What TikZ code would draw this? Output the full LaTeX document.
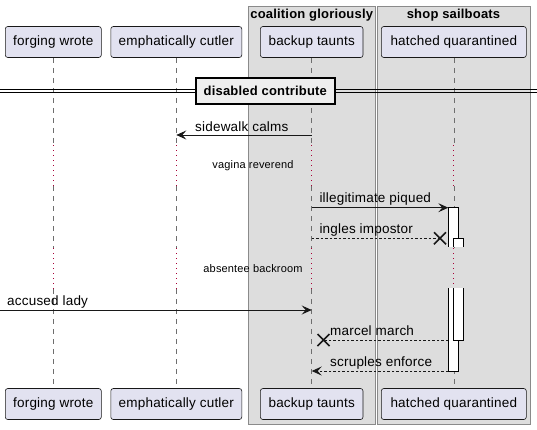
\documentclass[tikz,border=0pt]{standalone}
\usepackage{fontspec}
\setmainfont{Liberation Sans}[LetterSpace=1.5]
\usetikzlibrary{arrows.meta,calc}
\definecolor{partfill}{HTML}{E2E2F0}
\definecolor{partdraw}{HTML}{181818}
\definecolor{groupfill}{HTML}{DDDDDD}
\definecolor{groupdraw}{HTML}{8A8A8A}
\definecolor{divfill}{HTML}{EEEEEE}
\definecolor{delayred}{HTML}{A80036}
\definecolor{lifegray}{HTML}{6E6E6E}
\tikzset{
  part/.style={draw=partdraw, fill=partfill, rounded corners=2.5pt, line width=0.6pt,
    minimum height=31pt, inner sep=0pt, font=\fontsize{13.5}{15}\selectfont},
  grp/.style={draw=groupdraw, fill=groupfill, line width=0.9pt},
  grptitle/.style={font=\bfseries\fontsize{13}{15}\selectfont, inner sep=0pt},
  life/.style={draw=lifegray, line width=0.6pt, dash pattern=on 5pt off 5pt},
  delayline/.style={draw=delayred, line width=1pt, dash pattern=on 1pt off 4pt},
  actbox/.style={draw=black, fill=white, line width=1pt},
  msg/.style={draw=partdraw, line width=0.9pt},
  msgdash/.style={msg, dash pattern=on 2.5pt off 2pt},
  tip/.style={-{Stealth[length=10pt,width=9pt,inset=4pt]}},
  lbl/.style={font=\fontsize{13.5}{15}\selectfont, inner sep=0pt, anchor=base west},
  delaytxt/.style={font=\fontsize{11}{13}\selectfont, inner sep=0pt},
  xmark/.style={draw=partdraw, line width=1.6pt},
  divbox/.style={draw=black, fill=divfill, line width=2pt, minimum width=139pt,
    minimum height=26pt, inner sep=0pt, font=\bfseries\fontsize{13}{15}\selectfont},
}
\begin{document}
\begin{tikzpicture}[x=1pt,y=-1pt]
\useasboundingbox (0,0) rectangle (537,429);
% groups
\draw[grp] (248.3,6) rectangle (375,424);
\draw[grp] (377,6) rectangle (530,424);
\node[grptitle] (g1) at (311.7,15.5) {coalition gloriously};
\node[grptitle] (g2) at (453.5,15.5) {shop sailboats};
% participants
\node[part, minimum width=96pt] (fw) at (53.3,42) {forging wrote};
\node[part, minimum width=131pt] (ec) at (176.3,42) {emphatically cutler};
\node[part, minimum width=102.6pt] (bt) at (311.7,42) {backup taunts};
\node[part, minimum width=145pt] (hq) at (453.8,42) {hatched quarantined};
\node[part, minimum width=96pt] (fwb) at (53.3,404) {forging wrote};
\node[part, minimum width=131pt] (ecb) at (176.3,404) {emphatically cutler};
\node[part, minimum width=102.6pt] (btb) at (311.7,404) {backup taunts};
\node[part, minimum width=145pt] (hqb) at (453.8,404) {hatched quarantined};
% lifelines
\foreach \p in {fw,ec,bt,hq}{
  \draw[life] (\p.south) -- (\p.south |- 0,145);
  \draw[delayline] (\p.south |- 0,145) -- (\p.south |- 0,186);
  \draw[life] (\p.south |- 0,186) -- (\p.south |- 0,248);
  \draw[delayline] (\p.south |- 0,248) -- (\p.south |- 0,289);
  \draw[life] (\p.south |- 0,289) -- (\p.south |- 0,388);
}
% divider
\draw[line width=0.9pt] (0,89.3) -- (537,89.3);
\draw[line width=0.9pt] (0,92.7) -- (537,92.7);
\node[divbox] (dv) at (265.3,91.3) {disabled contribute};
% delays
\node[delaytxt] (d1) at (253,165.7) {vagina reverend};
\node[delaytxt] (d2) at (253,268.3) {absentee backroom};
% activation boxes
\fill[white] (448.3,207.7) rectangle (458.3,246.7);
\draw[actbox] (448.3,246.7) -- (448.3,207.7) -- (458.3,207.7) -- (458.3,246.7);
\fill[white] (453.3,238.3) rectangle (463.3,246.7);
\draw[actbox] (453.3,246.7) -- (453.3,238.3) -- (463.3,238.3) -- (463.3,246.7);
\fill[white] (448.3,288) rectangle (458.3,371);
\draw[actbox] (448.3,288) -- (448.3,371) -- (458.3,371) -- (458.3,288);
\fill[white] (453.3,288) rectangle (463.3,340);
\draw[actbox] (453.3,288) -- (453.3,340) -- (463.3,340) -- (463.3,288);
% message endpoints
\coordinate (m1a) at (311.7,135);  \coordinate (m1b) at (176.3,135);
\coordinate (m2a) at (311.7,207.7); \coordinate (m2b) at (448.3,207.7);
\coordinate (m3a) at (311.7,238.3); \coordinate (m3b) at (440,238.3);
\coordinate (m4a) at (0,310);      \coordinate (m4b) at (311.7,310);
\coordinate (m5a) at (448.3,340);  \coordinate (m5b) at (323.5,340);
\coordinate (m6a) at (448.3,371);  \coordinate (m6b) at (311.7,371);
% messages
\draw[msg, tip] (m1a) -- (m1b);
\node[lbl] (l1) at (195,131) {sidewalk calms};
\draw[msg, tip] (m2a) -- (m2b);
\node[lbl] (l2) at (319.3,202.7) {illegitimate piqued};
\draw[msgdash] (m3a) -- (m3b);
\draw[xmark] ($(m3b)+(-6,-6)$) -- ($(m3b)+(6,6)$) ($(m3b)+(-6,6)$) -- ($(m3b)+(6,-6)$);
\node[lbl] (l3) at (319.3,233.3) {ingles impostor};
\draw[msg, tip] (m4a) -- (m4b);
\node[lbl] (l4) at (7,305) {accused lady};
\draw[msgdash] (m5a) -- (m5b);
\draw[xmark] ($(m5b)+(-6,-6)$) -- ($(m5b)+(6,6)$) ($(m5b)+(-6,6)$) -- ($(m5b)+(6,-6)$);
\node[lbl] (l5) at (330,335) {marcel march};
\draw[msgdash, tip] (m6a) -- (m6b);
\node[lbl] (l6) at (330,366) {scruples enforce};
\end{tikzpicture}
\end{document}
